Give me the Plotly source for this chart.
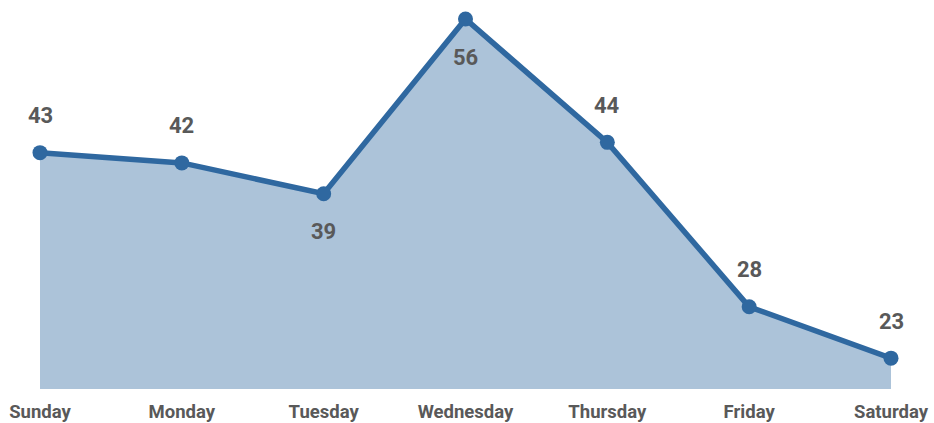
import plotly.graph_objects as go

days = ["Sunday", "Monday", "Tuesday", "Wednesday", "Thursday", "Friday", "Saturday"]
values = [43, 42, 39, 56, 44, 28, 23]
label_side = ["above", "above", "below", "below", "above", "above", "above"]

line_color = "#2f68a0"
fill_color = "rgba(47,104,160,0.40)"
text_color = "#595959"
font_family = "Roboto, 'Noto Sans', sans-serif"

fig = go.Figure()
fig.add_trace(go.Scatter(
    x=days, y=values,
    mode="lines+markers",
    line=dict(color=line_color, width=5.5),
    marker=dict(color=line_color, size=15),
    fill="tozeroy",
    fillcolor=fill_color,
    cliponaxis=False,
    hoverinfo="x+y",
))

for d, v, side in zip(days, values, label_side):
    fig.add_annotation(
        x=d, y=v, text=f"<b>{v}</b>", showarrow=False,
        yshift=37 if side == "above" else -38,
        font=dict(family=font_family, size=22, color=text_color),
    )

fig.update_layout(
    width=934, height=423,
    margin=dict(l=40, r=43, t=10, b=34, autoexpand=False),
    paper_bgcolor="white", plot_bgcolor="white",
    showlegend=False,
    xaxis=dict(
        type="category", range=[0, 6], showgrid=False, zeroline=False,
        showline=False, ticks="", ticklabelstandoff=9, automargin=False,
        tickfont=dict(family=font_family, size=18.5, color=text_color, weight="bold"),
    ),
    yaxis=dict(range=[20, 56.88], visible=False, showgrid=False, zeroline=False,
               automargin=False),
)

fig.write_html("out.html")
